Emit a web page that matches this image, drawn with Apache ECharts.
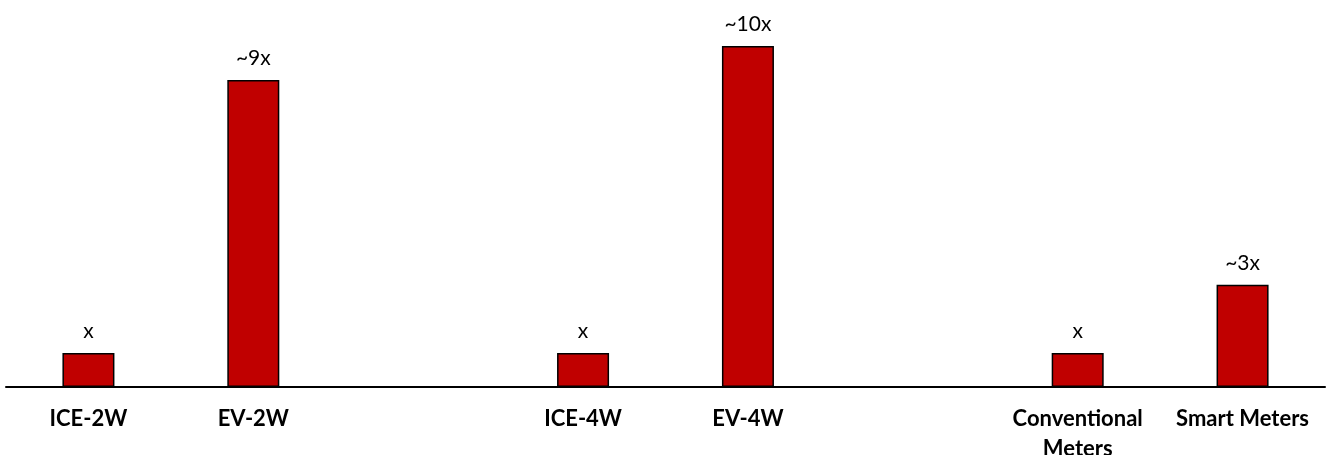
<!DOCTYPE html>
<html lang="en">
<head>
    <meta charset="UTF-8"/>
    <title>Multiplier chart</title>
    <style>
        * {
            padding: 0;
            margin: 0;
        }

        body {
            background: #fff;
            overflow: hidden;
        }

        .chart {
            width: 1331px;
            height: 455px;
        }
    </style>
    <script type="text/javascript" src="https://cdn.jsdelivr.net/npm/echarts@6/dist/echarts.min.js"></script>
</head>
<body>
<div class="chart" id="chart"></div>
</body>
<script>
    // empty names are the gaps between the three pairs
    const categories = ["ICE-2W", "EV-2W", "", "ICE-4W", "EV-4W", "", "Conventional\nMeters", "Smart Meters"];
    const values = [1, 9, null, 1, 10, null, 1, 3];
    const barLabels = ["x", "~9x", "", "x", "~10x", "", "x", "~3x"];

    const myChart = echarts.init(document.getElementById("chart"));

    const option = {
        animation: false,
        grid: {
            left: 6,
            right: 6,
            top: 46,
            bottom: 68,
            containLabel: false,
            outerBoundsMode: "none",
        },
        xAxis: {
            type: "category",
            data: categories,
            axisLine: {lineStyle: {color: "#000", width: 2}},
            axisTick: {show: false},
            axisLabel: {
                interval: 0,
                margin: 17,
                color: "#000",
                fontFamily: "Lato",
                fontWeight: "bold",
                fontSize: 22,
                lineHeight: 30,
            },
        },
        yAxis: {
            type: "value",
            min: 0,
            max: 10,
            show: false,
        },
        series: [
            {
                type: "bar",
                data: values,
                barWidth: 52,
                itemStyle: {
                    color: "#C00000",
                    borderColor: "#000",
                    borderWidth: 1.5,
                },
                label: {
                    show: true,
                    position: "top",
                    distance: 11,
                    color: "#000",
                    fontFamily: "Lato",
                    fontSize: 21,
                    formatter: (p) => barLabels[p.dataIndex],
                },
            },
        ],
    };
    myChart.setOption(option);
</script>
</html>
